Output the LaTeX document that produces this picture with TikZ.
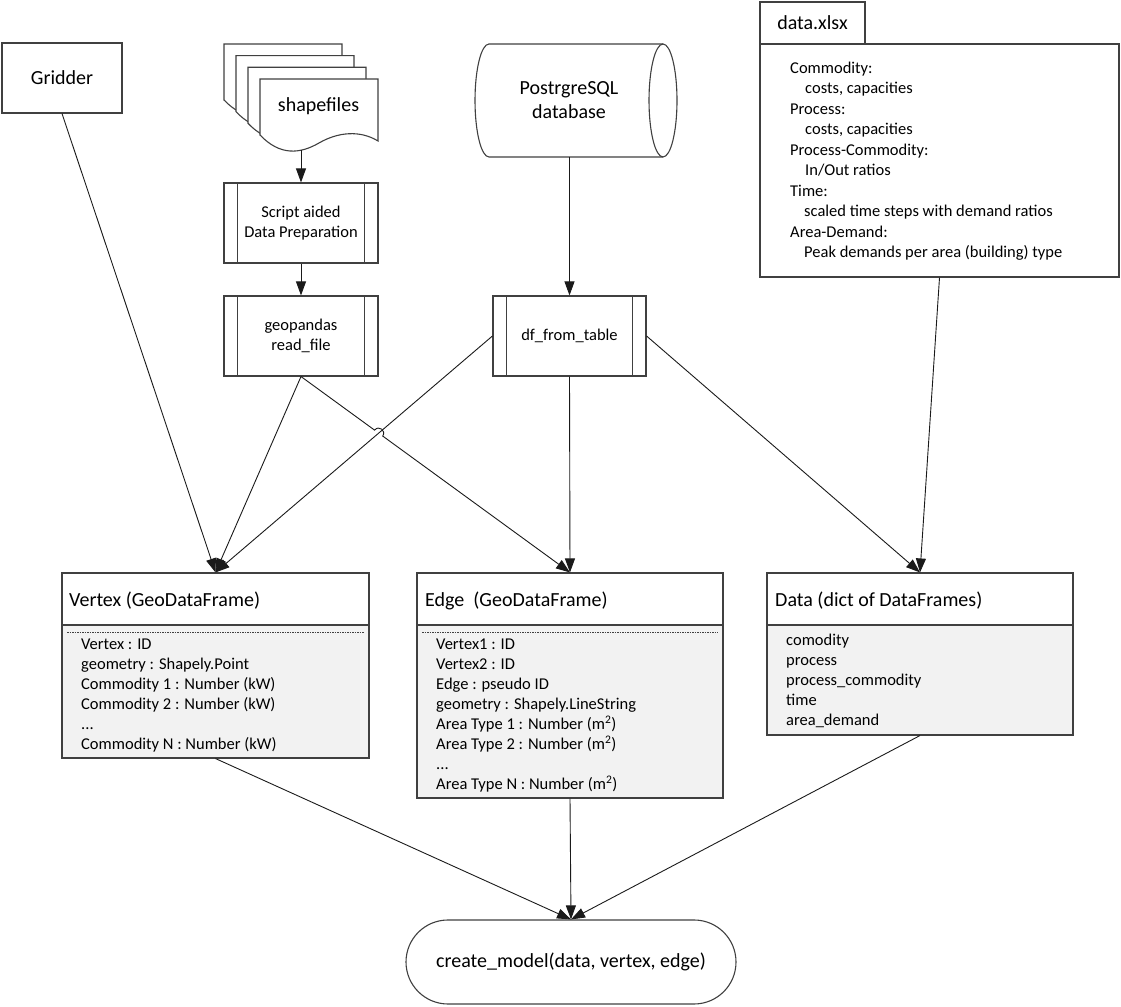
\documentclass[tikz,border=0pt]{standalone}
\usepackage{fontspec}
\setmainfont{Carlito}
\usetikzlibrary{arrows.meta,calc,shapes.misc}
\definecolor{bcol}{HTML}{404040}
\definecolor{ccol}{HTML}{1A1A1A}
\definecolor{bodyg}{HTML}{F2F2F2}
\tikzset{
  big/.style={font=\fontsize{20}{24}\selectfont},
  small/.style={font=\fontsize{16.5}{20}\selectfont},
  frame/.style={draw=bcol, line width=1.1pt},
  box/.style={frame, fill=white, inner sep=0pt},
  proc/.style={box, minimum width=154pt, minimum height=80pt, small, align=center},
  conn/.style={draw=ccol, line width=0.9pt, -{Triangle[length=14pt,width=10pt]}},
  page/.style={frame, fill=white},
  classbox/.style={frame, inner sep=0pt,
    path picture={
      \fill[bodyg] ($(path picture bounding box.south west)$) rectangle ($(path picture bounding box.north east)+(0,-52)$);
      \draw[bcol, line width=1.1pt] ($(path picture bounding box.north west)+(0,-52)$) -- ($(path picture bounding box.north east)+(0,-52)$);
    }},
  dotline/.style={draw=bcol, line width=0.6pt, dash pattern=on 1.5pt off 1pt},
  attr/.style={small, anchor=base west, inner sep=0pt},
  title/.style={big, anchor=base west, inner sep=0pt}
}
\newcommand{\attrlist}[1]{\begin{tabular}[t]{@{}l@{}}#1\end{tabular}}
\newcommand{\procbars}[1]{%
  \draw[frame] ([xshift=14pt]#1.north west) -- ([xshift=14pt]#1.south west);
  \draw[frame] ([xshift=-14pt]#1.north east) -- ([xshift=-14pt]#1.south east);}
\newcommand{\docpage}{%
  \path[page] (260,927) -- (378,927) -- (378,865)
    .. controls (360,876) and (338,874) .. (319,863)
    .. controls (300,852) and (280,850) .. (260,871) -- cycle;}
\begin{document}
\begin{tikzpicture}[x=1pt,y=1pt]
\useasboundingbox (0,0) rectangle (1121,1006);

% Gridder
\node[box, big, minimum width=120pt, minimum height=70pt] (grid) at (62,928) {Gridder};

% shapefiles stack
\begin{scope}[shift={(-36,35)}]\docpage\end{scope}
\begin{scope}[shift={(-24,23.3)}]\docpage\end{scope}
\begin{scope}[shift={(-12,11.7)}]\docpage\end{scope}
\docpage
\node[big, inner sep=0pt] (shp) at (318.5,900) {shapefiles};
\coordinate (shpb) at (301,856);

% processing boxes
\node[proc] (scr) at (301,783) {Script aided\\Data Preparation};
\procbars{scr}
\node[proc] (geo) at (301,670) {geopandas\\read\_file};
\procbars{geo}
\node[proc, minimum width=153pt] (df) at (569.5,670) {df\_from\_table};
\procbars{df}

% database cylinder
\path[frame, fill=white] (489,962) -- (663,962)
  arc[start angle=90, end angle=-90, x radius=14, y radius=56.5]
  -- (489,849)
  arc[start angle=270, end angle=90, x radius=14, y radius=56.5] -- cycle;
\draw[frame] (663,962) arc[start angle=90, end angle=270, x radius=14, y radius=56.5];
\node[inner sep=0pt, minimum width=174pt, minimum height=113pt] (db) at (576,905.5) {};
\node[big, align=center, inner sep=0pt] (dbt) at (569,906) {PostrgreSQL\\database};

% data.xlsx
\node[box, big, minimum width=105pt, minimum height=42pt] (xltab) at (812.5,983) {data.xlsx};
\node[box, minimum width=359pt, minimum height=233pt] (xl) at (939.5,845.5) {};
\node[attr, font=\fontsize{16.5}{20.5}\selectfont] (xltext) at (790,932.5)
  {\attrlist{Commodity:\\\hspace*{15pt}costs, capacities\\Process:\\\hspace*{15pt}costs, capacities\\Process-Commodity:\\\hspace*{15pt}In/Out ratios\\Time:\\\hspace*{14pt}scaled time steps with demand ratios\\Area-Demand:\\\hspace*{14pt}Peak demands per area (building) type}};

% Vertex
\node[classbox, minimum width=307pt, minimum height=185pt] (vtx) at (215.5,340.5) {};
\draw[dotline] (67,374) -- (364,374);
\node[title] at (69,399.6) {Vertex (GeoDataFrame)};
\node[attr] at (81,356.5) {\attrlist{Vertex : ID\\geometry : Shapely.Point\\Commodity 1 : Number (kW)\\Commodity 2 : Number (kW)\\...\\Commodity N : Number (kW)}};

% Edge
\node[classbox, minimum width=306pt, minimum height=225pt] (edge) at (570,320.5) {};
\draw[dotline] (422,374) -- (718,374);
\node[title] at (425,399.6) {Edge~~(GeoDataFrame)};
\node[attr] at (436,356.5) {\attrlist{Vertex1 : ID\\Vertex2 : ID\\Edge : pseudo ID\\geometry : Shapely.LineString\\Area Type 1 : Number (m\textsuperscript{2})\\Area Type 2 : Number (m\textsuperscript{2})\\...\\Area Type N : Number (m\textsuperscript{2})}};

% Data
\node[classbox, minimum width=306pt, minimum height=162pt] (data) at (920,352) {};
\node[title] at (775,399.6) {Data (dict of DataFrames)};
\node[attr] at (786,360.5) {\attrlist{comodity\\process\\process\_commodity\\time\\area\_demand}};

% create_model
\node[frame, rounded rectangle, minimum width=330pt, minimum height=84pt, big, inner sep=0pt] (cm) at (571,44) {create\_model(data, vertex, edge)};

% connectors
\draw[conn] (shpb) -- (scr.north);
\draw[conn] (scr.south) -- (geo.north);
\draw[conn] (df.north |- db.south) -- (df.north);
\draw[conn] (grid.south) -- (vtx.north);
\draw[conn] (geo.south) -- (vtx.north);
\draw[conn] (df.west) -- (vtx.north);
\coordinate (hx) at (intersection of geo.south--edge.north and df.west--vtx.north);
\draw[conn] (geo.south) -- ($(hx)!5pt!(geo.south)$) to[out=54,in=54,looseness=1.7] ($(hx)!5pt!(edge.north)$) -- (edge.north);
\draw[conn] (df.south) -- (edge.north);
\draw[conn] (df.east) -- (data.north);
\draw[conn] (xl.south) -- (data.north);
\draw[conn] (vtx.south) -- (cm.north);
\draw[conn] (edge.south) -- (cm.north);
\draw[conn] (data.south) -- (cm.north);
\end{tikzpicture}
\end{document}
